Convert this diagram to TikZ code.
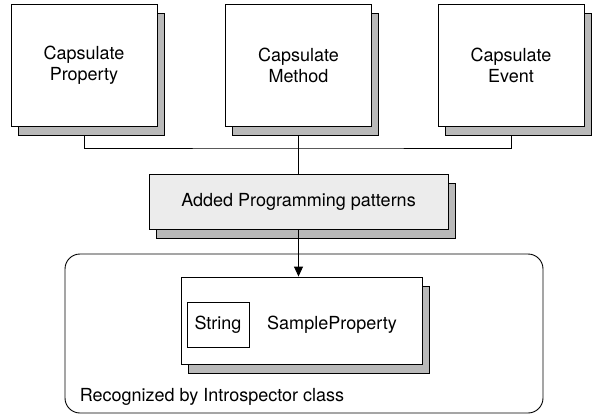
\documentclass[tikz,border=0pt]{standalone}
\usepackage{fontspec}
\setmainfont{TeX Gyre Heros}
\usetikzlibrary{shadows,backgrounds,arrows.meta}

\begin{document}
\begin{tikzpicture}[x=1pt,y=1pt,line width=0.9pt,font=\fontsize{18}{21}\selectfont,
    boxshadow/.style={copy shadow={shadow xshift=7pt,shadow yshift=-9pt,fill=gray!55,draw=black}},
    capbox/.style={draw,fill=white,boxshadow,align=center,minimum width=146pt,minimum height=122pt},
    patbox/.style={draw,fill=gray!15,boxshadow,minimum width=299pt,minimum height=55pt},
    propbox/.style={draw,fill=white,boxshadow,minimum width=241pt,minimum height=87pt},
    typebox/.style={draw,fill=white,minimum width=62pt,minimum height=45pt}]
            \useasboundingbox (0,0) rectangle (596,416);
            \node[capbox](b1) at (84,351) {Capsulate\\Property};
            \node[capbox](b2) at (298.5,351) {Capsulate\\Method};
            \node[capbox](b3) at (511,351) {Capsulate\\Event};
            \node[patbox](add) at (298.5,214.5) {Added Programming patterns};

            \node[draw,rounded corners=15pt,minimum width=478pt,minimum height=159pt](outer) at (304,82.5) {};
            \node[propbox](prop) at (301.5,95.5) {};
            \node[typebox](str) at (218,91.5) {String};
            \node[](sp) at (332,91) {SampleProperty};
            \node[anchor=west](lbl) at (76,19) {Recognized by Introspector class};

            \coordinate (j) at (298.5,268);
            \begin{scope}[on background layer]
              \draw (b1.south) |- (j) -| (b3.south);
              \draw (b2.south) -- (add.north);
            \end{scope}
            \draw[-{Triangle[length=10pt,width=9pt]}] (add.south) -- (add.south |- prop.north);
          \end{tikzpicture}
\end{document}
